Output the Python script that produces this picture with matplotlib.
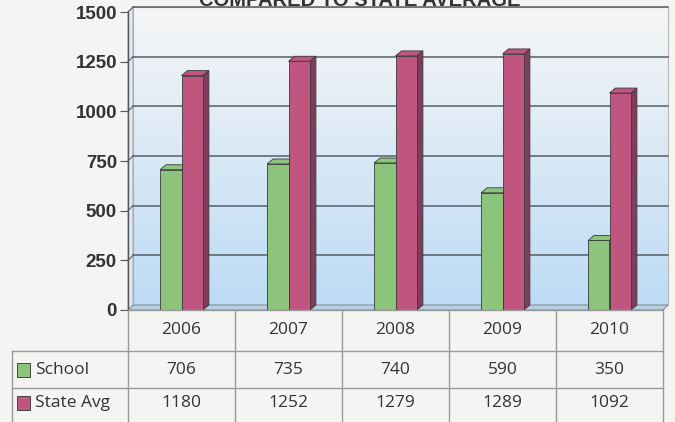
import numpy as np
import matplotlib
matplotlib.use("Agg")
import matplotlib.pyplot as plt
from matplotlib.patches import Polygon, Rectangle

years = ['2006', '2007', '2008', '2009', '2010']
school = [706, 735, 740, 590, 350]
state_avg = [1180, 1252, 1279, 1289, 1092]
series_names = ['School', 'State Avg']
title = 'COMPARED TO STATE AVERAGE'

green = '#8cc47c'
green_dark = '#5f9a55'
pink = '#c0557f'
pink_dark = '#7e3d5c'
edge = '#3a3a3a'

W, H = 675, 422
fig = plt.figure(figsize=(W / 100, H / 100), dpi=100)
fig.patch.set_facecolor('#f4f4f2')

def fx(px):
    return px / W

def fy(py):
    return 1 - py / H

# axes: front plane from x=128 to 663 px, 0 at y=310 and 1500 at y=12
ax_left, ax_right_front, ax_right = 128, 663, 668
ax_top, ax_bot = 12, 310
ax = fig.add_axes([fx(ax_left), fy(ax_bot), fx(ax_right - ax_left), (ax_bot - ax_top) / H])
px_per_unit = (ax_right_front - ax_left) / 5.0
dx = (ax_right - ax_right_front) / px_per_unit
ymax = 1500
dy = 5 * ymax / (ax_bot - ax_top)
ax.set_xlim(-0.5, 4.5 + dx)
ax.set_ylim(0, ymax)
ax.patch.set_alpha(0)

# back wall with gradient
grad = np.linspace(0, 1, 256)[:, None]
top_c = np.array([0.965, 0.965, 0.965])
bot_c = np.array([0.74, 0.86, 0.96])
img = top_c * (1 - grad[..., None]) + bot_c * grad[..., None]
img = np.repeat(img, 2, axis=1)
ax.imshow(img, extent=[-0.5 + dx, 4.5 + dx, dy, ymax + dy], aspect='auto',
          zorder=0, origin='upper')
ax.add_patch(Rectangle((-0.5 + dx, dy), 5, ymax, fill=False, ec='#b8b8b8', lw=0.8, zorder=1,
                       clip_on=False))
# side wall
ax.add_patch(Polygon([(-0.5, 0), (-0.5 + dx, dy), (-0.5 + dx, ymax + dy), (-0.5, ymax)],
                     closed=True, fc='#dfe9f2', ec='#9a9a9a', lw=0.6, zorder=1, clip_on=False))
# floor
ax.add_patch(Polygon([(-0.5, 0), (4.5, 0), (4.5 + dx, dy), (-0.5 + dx, dy)],
                     closed=True, fc='#b7cfe4', ec='#8a8f96', lw=0.8, zorder=1, clip_on=False))

# gridlines on back wall
for v in range(250, ymax + 1, 250):
    ax.plot([-0.5 + dx, 4.5 + dx], [v + dy, v + dy], color='#55606a', lw=1.1, zorder=2,
            clip_on=False)
    ax.plot([-0.5, -0.5 + dx], [v, v + dy], color='#55606a', lw=0.8, zorder=2, clip_on=False)

# 3D bars
x = np.arange(len(years))
bw = 0.2
bdx = 6 / px_per_unit
bdy = dy
for vals, off, fc, sc in [(school, -0.1, green, green_dark), (state_avg, 0.1, pink, pink_dark)]:
    bars = ax.bar(x + off, vals, width=bw, color=fc, edgecolor=edge, linewidth=0.6, zorder=4)
    for b in bars:
        x0 = b.get_x()
        x1 = x0 + b.get_width()
        h = b.get_height()
        ax.add_patch(Polygon([(x1, 0), (x1 + bdx, bdy), (x1 + bdx, h + bdy), (x1, h)],
                             closed=True, fc=sc, ec=edge, lw=0.6, zorder=3))
        ax.add_patch(Polygon([(x0, h), (x1, h), (x1 + bdx, h + bdy), (x0 + bdx, h + bdy)],
                             closed=True, fc=fc, ec=edge, lw=0.6, zorder=4))

for s in ['top', 'right', 'bottom']:
    ax.spines[s].set_visible(False)
ax.spines['left'].set_color('#555555')
ax.spines['left'].set_linewidth(1.0)
ax.set_xticks([])
ax.set_yticks(range(0, ymax + 1, 250))
ax.tick_params(axis='y', length=6, color='#555555', labelsize=13.5, labelcolor='#333333', pad=2)
for lab in ax.get_yticklabels():
    lab.set_fontweight('bold')
    lab.set_fontfamily('Liberation Sans')

# title, cut off by the top edge as in the scan
fig.text(fx(360), fy(6), title, ha='center', va='baseline', fontsize=14.5, fontweight='bold',
         family='Liberation Sans', color='#333333')

# data table below the chart
tab = fig.add_axes([0, 0, 1, 1], facecolor='none')
tab.set_xlim(0, W)
tab.set_ylim(H, 0)
tab.axis('off')
line_c = '#999999'
col_edges = [ax_left + i * px_per_unit for i in range(len(years) + 1)]
row_edges = [310, 351, 388, 428]
lab_left = 12
tab.plot([ax_left, ax_left], [ax_bot, H], color=line_c, lw=1)
for xe in col_edges[1:]:
    tab.plot([xe, xe], [row_edges[0], H], color=line_c, lw=1)
tab.plot([ax_left, col_edges[-1]], [row_edges[0], row_edges[0]], color=line_c, lw=1)
for ye in row_edges[1:3]:
    tab.plot([lab_left, col_edges[-1]], [ye, ye], color=line_c, lw=1)
tab.plot([lab_left, lab_left], [row_edges[1], H], color=line_c, lw=1)

font = dict(family='Open Sans', fontsize=12.5, color='#333333')
for i, yr in enumerate(years):
    cx = (col_edges[i] + col_edges[i + 1]) / 2
    tab.text(cx, (row_edges[0] + row_edges[1]) / 2, yr, ha='center', va='center', **font)
    tab.text(cx, (row_edges[1] + row_edges[2]) / 2, str(school[i]), ha='center', va='center', **font)
    tab.text(cx, (row_edges[2] + row_edges[3] - 10) / 2, str(state_avg[i]), ha='center',
             va='center', **font)

row_y = [(row_edges[1] + row_edges[2]) / 2, (row_edges[2] + row_edges[3] - 10) / 2]
for name, yc, fc in zip(series_names, row_y, [green, pink]):
    tab.add_patch(Rectangle((17, yc - 7), 13, 14, fc=fc, ec='#444444', lw=0.7))
    tab.text(35, yc, name, ha='left', va='center', **font)

fig.savefig('out.png', dpi=100, facecolor=fig.get_facecolor())
